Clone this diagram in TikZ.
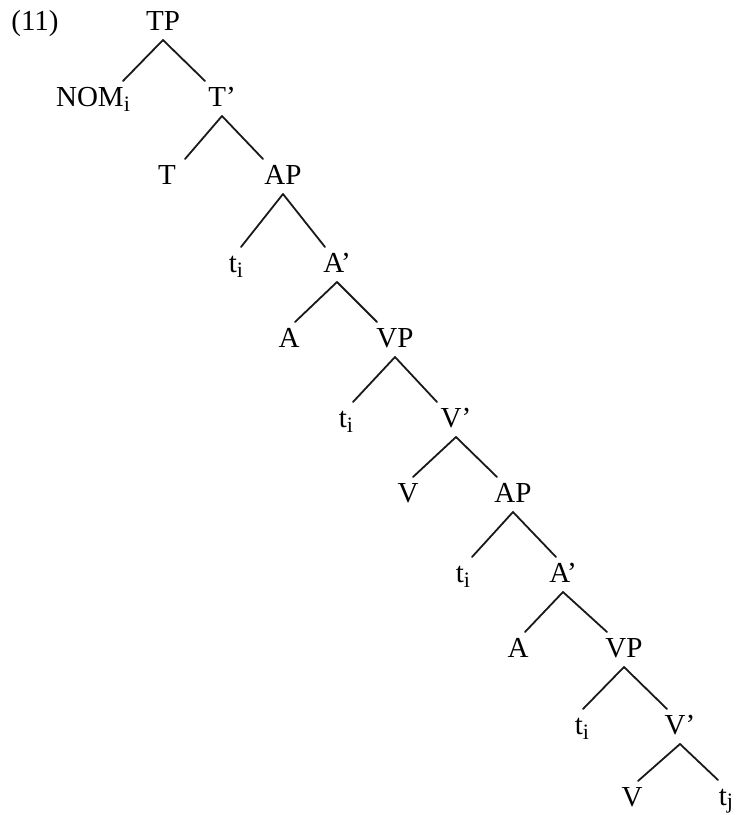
\documentclass[tikz,border=0pt]{standalone}
\usepackage{fontspec}
\setmainfont{Liberation Serif}
% lowered index letter (coindexation subscript)
\newcommand{\lowidx}[2][-5pt]{\raisebox{#1}{\fontsize{22}{22}\selectfont #2}}
% branch from a mother node down to a daughter; #3 moves the lower end sideways
\newcommand{\treeedge}[3]{\draw[branch] ([yshift=-10pt]#1.base) -- ([xshift=#3,yshift=25pt]#2.base);}
\tikzset{
  lab/.style={anchor=base, inner sep=0pt, font=\fontsize{29}{29}\selectfont},
  branch/.style={line width=1.8pt, line cap=round, black!90}
}
\begin{document}
\begin{tikzpicture}[x=1pt, y=-1pt]
\useasboundingbox (0,0) rectangle (736,815);
\node[lab] (ex)  at (35,30)  {(11)};
\node[lab] (TP)  at (163,30) {TP};
\node[lab] (NOM) at (93,106) {NOM\lowidx{i}};
\node[lab] (Tb)  at (222,106) {T’};
\node[lab] (T)   at (167,184) {T};
\node[lab] (APa) at (283,184) {AP};
\node[lab] (ta)  at (236,272) {t\lowidx{i}};
\node[lab] (Aba) at (337,272) {A’};
\node[lab] (Aa)  at (289,347) {A};
\node[lab] (VPa) at (395,347) {VP};
\node[lab] (tb)  at (346,427) {t\lowidx{i}};
\node[lab] (Vba) at (456,427) {V’};
\node[lab] (Va)  at (408,502) {V};
\node[lab] (APb) at (513,502) {AP};
\node[lab] (tc)  at (463,582) {t\lowidx{i}};
\node[lab] (Abb) at (563,582) {A’};
\node[lab] (Ab)  at (518,657) {A};
\node[lab] (VPb) at (624,657) {VP};
\node[lab] (td)  at (582,734) {t\lowidx{i}};
\node[lab] (Vbb) at (680,734) {V’};
\node[lab] (Vb)  at (632,806) {V};
\node[lab] (tj)  at (726,805) {t\lowidx[-3pt]{j}};

\treeedge{TP}{NOM}{30pt}
\treeedge{TP}{Tb}{-17pt}
\treeedge{Tb}{T}{18pt}
\treeedge{Tb}{APa}{-20pt}
\treeedge{APa}{ta}{5pt}
\treeedge{APa}{Aba}{-12pt}
\treeedge{Aba}{Aa}{6pt}
\treeedge{Aba}{VPa}{-18pt}
\treeedge{VPa}{tb}{7pt}
\treeedge{VPa}{Vba}{-19pt}
\treeedge{Vba}{Va}{5pt}
\treeedge{Vba}{APb}{-16pt}
\treeedge{APb}{tc}{9pt}
\treeedge{APb}{Abb}{-7pt}
\treeedge{Abb}{Ab}{7pt}
\treeedge{Abb}{VPb}{-17pt}
\treeedge{VPb}{td}{1pt}
\treeedge{VPb}{Vbb}{-13pt}
\treeedge{Vbb}{Vb}{6pt}
\treeedge{Vbb}{tj}{-8pt}
\end{tikzpicture}
\end{document}
